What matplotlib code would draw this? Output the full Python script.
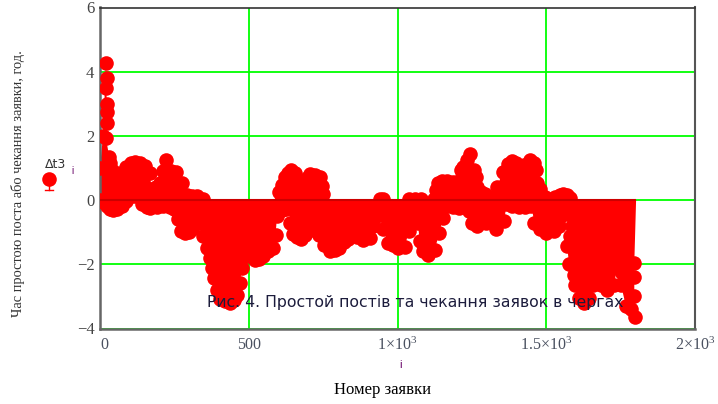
import numpy as np
import matplotlib
matplotlib.use("Agg")
import matplotlib.pyplot as plt

# values: upper and lower edge of the cloud of points
upper_i = [0, 10, 20, 22, 20, 24, 24, 24, 20, 31, 33, 45, 55, 72, 89, 103, 117, 135, 151, 168, 173, 188,
           201, 212, 221, 224, 240, 257, 274, 291, 308, 325, 347, 362, 585, 600, 612, 622, 632, 643, 655, 665, 672,
           682, 695, 705, 722, 738, 745, 750, 756, 925, 940, 951, 965, 1025, 1040, 1060, 1080, 1095, 1123, 1130, 1137,
           1148, 1165, 1185, 1208, 1213, 1220, 1232, 1245, 1258, 1264, 1266, 1280, 1295, 1314, 1336, 1353, 1370,
           1386, 1398, 1409, 1426, 1446, 1458, 1465, 1470, 1480, 1497, 1508, 1530, 1545, 1557, 1570, 1580, 1592, 1802]
upper_dt = [1.0, 2.0, 4.27, 3.8, 3.5, 3.0, 2.75, 2.4, 1.93, 1.35, 1.15, 0.9, 0.73, 0.85, 1.04, 1.15, 1.2, 1.15, 1.06, 0.83, 0.36, 0.4,
            0.52, 0.9, 1.25, 0.93, 0.9, 0.86, 0.52, 0.15, 0.12, 0.13, 0.02, 0.0, 0.0, 0.25, 0.47, 0.73, 0.85, 0.95, 0.85, 0.5, 0.25,
            0.3, 0.7, 0.8, 0.78, 0.73, 0.45, 0.2, 0.0, 0.0, 0.02, 0.02, 0.0, 0.0, 0.03, 0.03, 0.03, 0.0, 0.02, 0.31, 0.52,
            0.6, 0.58, 0.57, 0.6, 0.93, 1.04, 1.25, 1.44, 0.93, 0.73, 0.42, 0.25, 0.18, 0.05, 0.42, 0.88, 1.14,
            1.22, 1.15, 1.04, 1.09, 1.25, 1.15, 0.93, 0.52, 0.36, 0.1, 0.02, 0.1, 0.15, 0.2, 0.15, 0.05, 0.0, 0.0]
lower_i = [0, 10, 22, 35, 45, 58, 73, 88, 101, 115, 129, 142, 157, 168, 190, 213, 235, 250, 262, 272, 285, 298, 308, 318, 330,
           345, 358, 370, 375, 383, 392, 405, 420, 436, 450, 462, 470, 478, 486, 500, 520, 535, 548, 565, 580, 590, 595, 612, 626, 633,
           640, 649, 662, 677, 690, 699, 708, 722, 735, 744, 752, 772, 790, 805, 820, 834, 850, 865, 883, 906, 917, 929, 940, 951, 968,
           985, 1001, 1024, 1038, 1051, 1068, 1075, 1085, 1102, 1125, 1141, 1152, 1165, 1185, 1208, 1242, 1252, 1268, 1298, 1332, 1359, 1366,
           1385, 1409, 1430, 1450, 1460, 1480, 1500, 1525, 1544, 1550, 1587, 1580, 1570, 1577, 1594, 1597, 1611, 1628, 1644, 1658, 1685, 1705,
           1728, 1738, 1755, 1751, 1768, 1785, 1798, 1796, 1796, 1796]
lower_dt = [0.0, -0.05, -0.18, -0.28, -0.31, -0.28, -0.18, -0.02, 0.13, 0.13, 0.13, -0.13, -0.22, -0.24, -0.2, -0.18, -0.22, -0.29, -0.6, -0.95, -1.04, -1.0, -0.91, -0.7, -0.7,
            -1.12, -1.49, -1.8, -2.11, -2.42, -2.79, -3.07, -3.15, -3.2, -3.1, -2.95, -2.58, -2.1, -1.75, -1.75, -1.87, -1.85, -1.75, -1.6, -1.49, -1.1, -0.5, -0.3, -0.29, -0.13,
            -0.7, -1.05, -1.15, -1.2, -1.1, -0.95, -0.7, -0.85, -1.1, -1.1, -1.4, -1.6, -1.55, -1.5, -1.3, -1.2, -1.1, -1.15, -1.25, -1.17, -0.81, -0.5, -0.45, -0.91, -1.33,
            -1.4, -1.49, -1.47, -0.97, -0.65, -0.7, -1.28, -1.59, -1.72, -1.54, -1.02, -0.55, -0.18, -0.2, -0.26, -0.34, -0.7, -0.81, -0.7, -0.91, -0.65, -0.13,
            -0.18, -0.22, -0.2, -0.18, -0.7, -0.9, -1.04, -0.95, -0.81, -0.5, -0.81, -1.12, -1.43, -2.0, -2.32, -2.63, -3.05, -3.22, -3.05, -2.65, -2.65, -2.79,
            -2.65, -2.11, -2.27, -2.63, -3.31, -3.4, -3.65, -3.0, -2.4, -1.95]

x_ticks = [0, 500, 1000, 1500, 2000]
x_labels = ["0", "500", r"$1{\times}10^3$", r"$1.5{\times}10^3$", r"$2{\times}10^3$"]
y_ticks = [-4, -2, 0, 2, 4, 6]
y_labels = ["\u22124", "\u22122", "0", "2", "4", "6"]

plt.rcParams["font.family"] = ["Liberation Serif", "DejaVu Serif"]
plt.rcParams["mathtext.fontset"] = "custom"
plt.rcParams["mathtext.rm"] = "Liberation Serif"
plt.rcParams["mathtext.default"] = "rm"

fig = plt.figure(figsize=(7.18, 4.04), dpi=100)
ax = fig.add_axes([100 / 718, 1 - 328.5 / 404, 595 / 718, 321 / 404])

red = "#ff0000"
ax.grid(True, color="#00ff00", lw=1.3, zorder=1)
ax.set_axisbelow(True)

# the stems fill everything between the two edges
ax.fill(np.concatenate([upper_i, lower_i[::-1]]), np.concatenate([upper_dt, lower_dt[::-1]]),
        color=red, lw=0, zorder=2)
up_i = np.array(upper_i)
up_dt = np.array(upper_dt)
ax.plot(up_i[up_dt > 0], up_dt[up_dt > 0], "o", color=red, ms=10.5, mew=0, zorder=3)
ax.plot(lower_i, lower_dt, "o", color=red, ms=10.5, mew=0, zorder=3)
ax.plot([0, 1802], [0, 0], color="#cc0000", lw=1.5, zorder=3, solid_capstyle="butt")

ax.set_xlim(0, 2000)
ax.set_ylim(-4, 6)
ax.set_xticks(x_ticks, x_labels)
ax.set_yticks(y_ticks, y_labels)
ax.tick_params(axis="x", length=0, labelsize=11.5, labelcolor="#4a5160", pad=6)
ax.tick_params(axis="y", length=0, labelsize=12, labelcolor="#444444", pad=4)
ax.get_xticklabels()[0].set_ha("left")

for side in ["left", "bottom"]:
    ax.spines[side].set_linewidth(1.8)
    ax.spines[side].set_color("#666666")
ax.spines["top"].set_linewidth(1.2)
ax.spines["top"].set_color("#333333")
ax.spines["right"].set_linewidth(1.5)
ax.spines["right"].set_color("#555555")

# caption sits on top of the plot
fig.text(415 / 718, 1 - 302 / 404, "Рис. 4. Простой постів та чекання заявок в чергах",
         family="DejaVu Sans", fontsize=11.3, color="#1c1c3c", ha="center", va="center", zorder=10)

fig.text(18 / 718, 1 - 184 / 404, "Час простою поста або чекання заявки, год.", rotation=90,
         fontsize=10.4, color="#333333", ha="center", va="center")
fig.text(383 / 718, 1 - 390 / 404, "Номер заявки", fontsize=12, color="black", ha="center", va="center")
fig.text(400 / 718, 1 - 365 / 404, "i", family="Liberation Sans", fontsize=8, color="#660066",
         ha="center", va="center")

# legend, drawn by hand like the original one
fig.text(45 / 718, 1 - 165 / 404, "\u0394t3", family="DejaVu Sans", fontsize=9, color="#333333",
         ha="left", va="center")
fig.text(72 / 718, 1 - 171 / 404, "i", family="Liberation Sans", fontsize=7, color="#660066",
         ha="center", va="center")
leg = fig.add_axes([38 / 718, 1 - 192 / 404, 20 / 718, 24 / 404])
leg.axis("off")
leg.set_xlim(0, 1)
leg.set_ylim(0, 1)
leg.plot([0.55, 0.55], [0.1, 0.6], color=red, lw=1)
leg.plot([0.35, 0.75], [0.1, 0.1], color=red, lw=1)
leg.plot([0.55], [0.55], "o", color=red, ms=10.5, mew=0)

fig.savefig("out.png", dpi=100)
